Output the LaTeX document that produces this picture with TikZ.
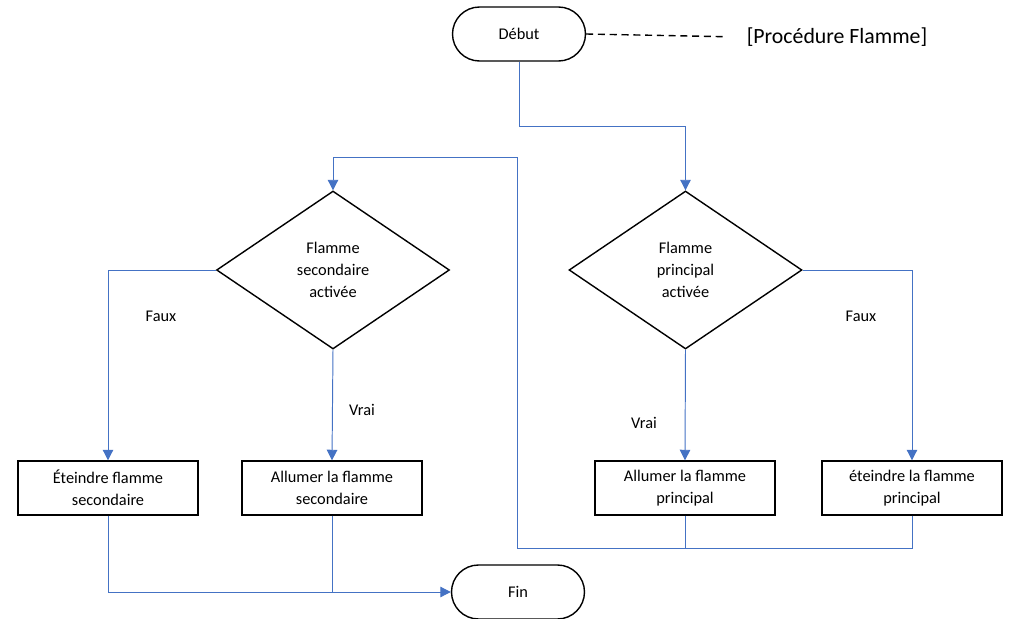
\documentclass[tikz,border=0pt]{standalone}
\usepackage{fontspec}
\setmainfont{Carlito}
\usepackage{tikz}
\usetikzlibrary{arrows.meta,positioning,calc,shapes.geometric}
\definecolor{flowblue}{HTML}{4472C4}

\begin{document}
\begin{tikzpicture}[x=0.02cm, y=-0.02cm,
    every node/.style={font=\fontsize{9.3}{12.7}\selectfont, align=center},
    terminal/.style={draw, line width=0.8pt, rounded corners=0.54cm, minimum width=2.66cm, minimum height=1.08cm},
    decision/.style={draw, line width=0.8pt, diamond, inner sep=0pt, minimum width=4.66cm, minimum height=3.16cm},
    process/.style={draw, line width=0.8pt, minimum width=3.6cm, minimum height=1.08cm},
    link/.style={draw=flowblue, line width=0.55pt},
    flow/.style={link, -{Triangle[width=6pt,length=6pt]}}]
  \useasboundingbox (0,0) rectangle (1009,619);
  % debut et fin
  \node[terminal] (debut) at (519,34) {Début};
  \node[font=\fontsize{12.4}{15}\selectfont] (procnote) at (837,37) {[Procédure Flamme]};
  \node[terminal] (fin) at (518,592) {Fin};
  % decisions
  \node[decision] (dsec) at (333,270) {Flamme\\secondaire\\activée};
  \node[decision] (dprin) at (685.5,270) {Flamme\\principal\\activée};
  % actions
  \node[process] (bsoff) at (108,488) {Éteindre flamme\\secondaire};
  \node[process] (bson) at (332,488) {Allumer la flamme\\secondaire};
  \node[process] (bpon) at (685,488) {Allumer la flamme\\principal};
  \node[process] (bpoff) at (912,488) {éteindre la flamme\\principal};
  % etiquettes
  \node (fauxsec) at (161,316) {Faux};
  \node (vraisec) at (362,410) {Vrai};
  \node (vraiprin) at (644,423) {Vrai};
  \node (fauxprin) at (861,316) {Faux};
  \coordinate (loopcorner) at (517,548);
  \coordinate (looptop) at (517,157);
  % connecteurs
  \draw[line width=0.8pt, dash pattern=on 4pt off 2.7pt, shorten >=0.3cm] (debut.east) -- (procnote.west);
  \draw[flow] (debut.south) -- ++(0,65) -| (dprin.north);
  \draw[flow] (dsec.west) -| (bsoff.north);
  \draw[flow] (dsec.south) -- (bson.north);
  \draw[flow] (dprin.south) -- (bpon.north);
  \draw[flow] (dprin.east) -| (bpoff.north);
  \draw[flow] (bpoff.south) |- (loopcorner) -- (looptop) -| (dsec.north);
  \draw[link] (bpon.south) -- (bpon.south |- loopcorner);
  \draw[flow] (bsoff.south) |- (fin.west);
  \draw[link] (bson.south) -- (bson.south |- fin.west);
\end{tikzpicture}
\end{document}
